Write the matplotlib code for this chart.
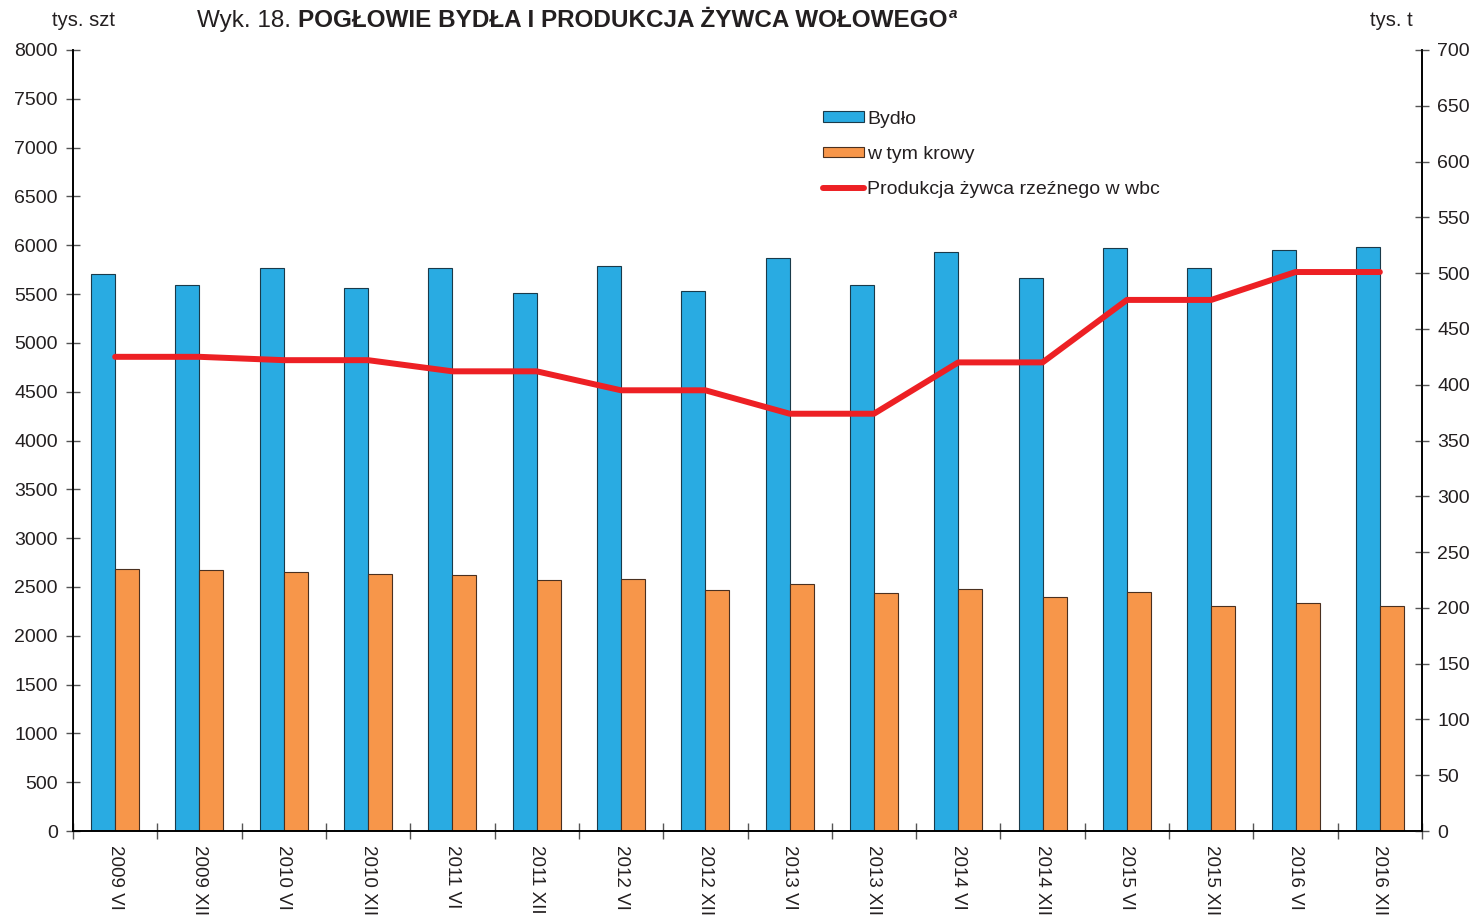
import numpy as np
import matplotlib.pyplot as plt
from matplotlib.ticker import MultipleLocator, FixedLocator

plt.rcParams['font.family'] = ['Liberation Sans', 'DejaVu Sans']

periods = ['2009 VI', '2009 XII', '2010 VI', '2010 XII', '2011 VI', '2011 XII',
           '2012 VI', '2012 XII', '2013 VI', '2013 XII', '2014 VI', '2014 XII',
           '2015 VI', '2015 XII', '2016 VI', '2016 XII']
bydlo = [5705, 5593, 5767, 5562, 5767, 5511, 5787, 5531,
         5869, 5593, 5931, 5664, 5972, 5767, 5951, 5982]
krowy = [2684, 2673, 2653, 2632, 2622, 2571, 2581, 2469,
         2530, 2438, 2479, 2397, 2448, 2305, 2335, 2305]
produkcja = [425, 425, 422, 422, 412, 412, 395, 395,
             374, 374, 420, 420, 476, 476, 501, 501]

blue = '#29abe2'
orange = '#f7964a'
red = '#ed2024'
txt = '#231f20'

fig = plt.figure(figsize=(14.74, 9.15), dpi=100)
ax = fig.add_axes([73/1474, 84/915, (1422-73)/1474, (831-50)/915])
ax2 = ax.twinx()

x = np.arange(len(periods))
w = 0.285
ax.bar(x - w/2, bydlo, w, color=blue, edgecolor='#1a3a4a', linewidth=0.8, label='Bydło')
ax.bar(x + w/2, krowy, w, color=orange, edgecolor='#4a3020', linewidth=0.8, label='w tym krowy')
ax2.plot(x, produkcja, color=red, lw=4.3, solid_capstyle='round', solid_joinstyle='round',
         label='Produkcja żywca rzeźnego w wbc')

ax.set_xlim(-0.5, len(periods) - 0.5)
ax.set_ylim(0, 8000)
ax2.set_ylim(0, 700)
ax.yaxis.set_major_locator(MultipleLocator(500))
ax2.yaxis.set_major_locator(MultipleLocator(50))

ax.xaxis.set_major_locator(FixedLocator(np.arange(-0.5, len(periods), 1)))
ax.set_xticklabels([])
ax.xaxis.set_minor_locator(FixedLocator(x))
ax.set_xticklabels(periods, minor=True, rotation=270, fontsize=13.5, color=txt)
ax.tick_params(axis='x', which='minor', length=0, pad=10)
ax.tick_params(axis='x', which='major', direction='inout', length=12, width=1, color='#555555')

ax.tick_params(axis='y', direction='inout', length=10, width=1, labelsize=14,
               labelcolor=txt, color='#555555', pad=6)
ax2.tick_params(axis='y', direction='inout', length=10, width=1, labelsize=14,
                labelcolor=txt, color='#555555', pad=6)

for a in (ax, ax2):
    a.spines['top'].set_visible(False)
    for s in ('left', 'right', 'bottom'):
        a.spines[s].set_linewidth(1.2)
        a.spines[s].set_color('black')

h1, l1 = ax.get_legend_handles_labels()
h2, l2 = ax2.get_legend_handles_labels()
fig.legend(h1 + h2, l1 + l2, loc='upper left', bbox_to_anchor=(806/1474, 1 - 93/915),
           frameon=False, fontsize=14, handlelength=2.1, handleheight=0.45,
           handletextpad=0.15, labelspacing=0.95, labelcolor=txt)

fig.text(52/1474, 1 - 26/915, 'tys. szt', fontsize=14.5, color=txt)
fig.text(1370/1474, 1 - 26/915, 'tys. t', fontsize=14.5, color=txt)

# title in pieces
fig.canvas.draw()
r = fig.canvas.get_renderer()
t1 = fig.text(197/1474, 1 - 27/915, 'Wyk. 18. ', fontsize=17.5, color=txt)
bb = t1.get_window_extent(r)
t2 = fig.text(bb.x1 / 1474, 1 - 27/915, 'POGŁOWIE BYDŁA I PRODUKCJA ŻYWCA WOŁOWEGO',
              fontsize=17.5, fontweight='bold', color=txt)
bb2 = t2.get_window_extent(r)
fig.text(bb2.x1 / 1474 + 0.001, 1 - 18/915, 'a', fontsize=11, fontweight='bold',
         fontstyle='italic', color=txt)

fig.savefig('out.png', dpi=100)
